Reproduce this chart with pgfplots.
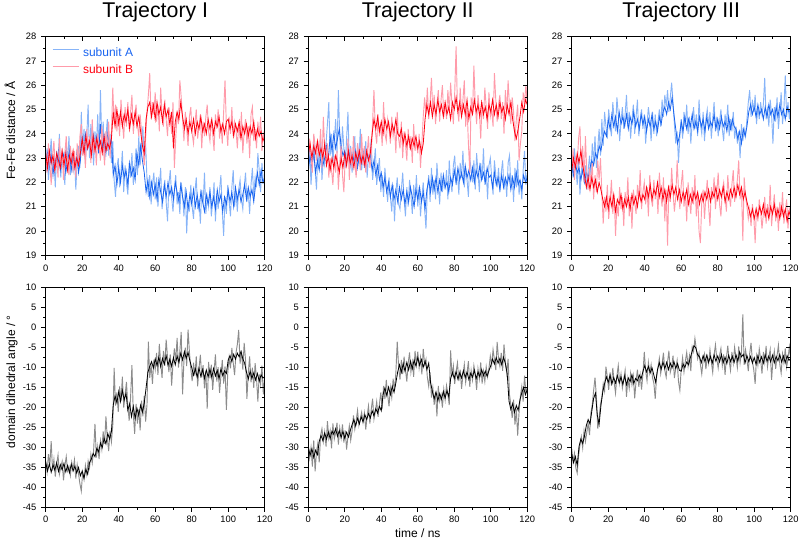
\documentclass[border=0pt]{standalone}
\usepackage{pgfplots}
\pgfplotsset{compat=1.18}
\usepackage{fontspec}
\setmainfont{Liberation Sans}
\definecolor{blueD}{RGB}{25,100,240}
\definecolor{blueL}{RGB}{135,180,248}
\definecolor{redD}{RGB}{255,0,15}
\definecolor{redL}{RGB}{255,155,170}
\definecolor{grayL}{RGB}{140,140,140}
\pgfplotsset{
  panel/.style={scale only axis, width=164.25pt, xmin=0, xmax=120,
    xtick={0,20,40,60,80,100,120}, minor x tick num=1, minor y tick num=1,
    axis line style={line width=0.6pt},
    major tick length=3.5pt, minor tick length=2pt,
    every tick/.append style={line width=0.5pt, black},
    ticklabel style={font=\fontsize{7}{8}\selectfont},
    /pgf/number format/assume math mode=true,
    anchor=south west},
  main/.style={panel, tick align=outside, xtick pos=left, ytick pos=left},
  over/.style={panel, tick align=inside, xtick pos=right, ytick pos=right, xticklabels={}, yticklabels={}},
  toprow/.style={height=164pt, ymin=19, ymax=28, ytick={19,20,...,28}},
  botrow/.style={height=164.8pt, ymin=-45, ymax=10, ytick={-45,-40,...,10}},
  botlbl/.style={yticklabels={-45,-40,-35,-30,-25,-20,-15,-10,-5,0,5,10}},
  ttl/.style={extra description/.code={\node[anchor=base, inner sep=0pt, font=\fontsize{16}{19}\selectfont] at (axis description cs:0.5,1.0884) {#1};}},
  ylab/.style={ylabel={#1}, ylabel style={at={(axis description cs:-0.14,0.57)}, anchor=base, font=\fontsize{9}{11}\selectfont}},
  Lt/.style={line width=0.7pt, no marks},
  Dk/.style={line width=0.6pt, no marks, forget plot},
}
\begin{document}
\begin{tikzpicture}
\useasboundingbox (0,0) rectangle (600pt,407.25pt);
% ===================== Trajectory I, top
\begin{axis}[main, toprow, at={(34.28pt,215.8pt)}, ttl={Trajectory I}, ylab={Fe-Fe distance / Å},
  legend cell align=left,
  legend image code/.code={\draw[#1, line width=0.8pt] (0pt,3pt) -- (20pt,3pt);},
  legend style={draw=none, fill=none, inner sep=0pt, at={(axis description cs:0,1)}, anchor=north west,
    xshift=4.5pt, yshift=-8.5pt, font=\fontsize{9}{10}\selectfont, row sep=4.6pt, column sep=2.5pt, nodes={inner sep=0pt}}]
\addplot[Lt, blueL] table[row sep=\\, header=false, y index=0, x expr=\coordindex*0.75] {
22.6\\ 23.4\\ 22.1\\ 23.0\\ 23.8\\ 22.4\\ 22.9\\ 21.8\\ 23.3\\ 22.7\\ 24.0\\ 22.2\\ 23.1\\ 22.5\\ 21.9\\ 23.6\\ 22.8\\ 23.9\\ 22.3\\ 23.2\\
22.4\\ 23.1\\ 21.7\\ 22.9\\ 23.5\\ 22.6\\ 24.9\\ 23.3\\ 24.2\\ 22.8\\ 23.9\\ 25.2\\ 23.0\\ 24.4\\ 23.6\\ 22.7\\ 24.1\\ 23.4\\ 24.8\\ 23.2\\
25.8\\ 23.6\\ 24.5\\ 22.9\\ 23.8\\ 24.6\\ 23.1\\ 24.0\\ 22.8\\ 23.7\\ 22.1\\ 21.4\\ 22.6\\ 23.0\\ 21.8\\ 22.4\\ 23.3\\ 21.6\\ 22.7\\ 22.0\\
21.5\\ 22.8\\ 22.2\\ 23.2\\ 21.9\\ 22.6\\ 23.4\\ 22.3\\ 23.9\\ 22.7\\ 23.5\\ 24.3\\ 22.9\\ 23.6\\ 22.1\\ 21.4\\ 22.3\\ 21.1\\ 21.9\\ 22.4\\
21.3\\ 22.2\\ 21.0\\ 21.8\\ 22.6\\ 20.9\\ 21.5\\ 22.1\\ 21.2\\ 20.4\\ 21.9\\ 22.5\\ 21.4\\ 20.8\\ 21.7\\ 22.3\\ 21.1\\ 21.6\\ 20.7\\ 22.0\\
21.5\\ 20.6\\ 21.8\\ 19.9\\ 21.2\\ 20.8\\ 21.9\\ 21.0\\ 20.5\\ 21.6\\ 22.2\\ 20.9\\ 21.3\\ 20.3\\ 21.7\\ 21.1\\ 22.4\\ 20.7\\ 21.4\\ 21.0\\
21.8\\ 20.6\\ 21.2\\ 22.0\\ 20.4\\ 21.5\\ 20.9\\ 21.7\\ 22.3\\ 20.8\\ 19.8\\ 21.4\\ 20.7\\ 21.9\\ 21.2\\ 20.6\\ 21.8\\ 22.5\\ 21.0\\ 21.6\\
20.8\\ 21.7\\ 22.1\\ 21.3\\ 20.9\\ 21.8\\ 22.4\\ 21.2\\ 21.6\\ 20.7\\ 21.9\\ 22.6\\ 21.4\\ 22.2\\ 21.8\\ 23.2\\ 22.5\\ 21.6\\ 22.8\\ 22.0\\
21.9\\
};
\addlegendentry{\textcolor{blueD}{subunit A}}
\addplot[Dk, blueD] table[row sep=\\, header=false, y index=0, x expr=\coordindex] {
22.4\\ 23.2\\ 22.6\\ 23.1\\ 22.3\\ 23.0\\ 22.7\\ 23.3\\ 22.5\\ 22.9\\
23.2\\ 22.4\\ 22.9\\ 23.3\\ 22.5\\ 23.0\\ 22.6\\ 23.2\\ 22.4\\ 22.9\\
23.9\\ 23.2\\ 24.1\\ 23.4\\ 23.8\\ 23.1\\ 24.0\\ 23.5\\ 23.9\\ 23.2\\
24.4\\ 23.4\\ 23.9\\ 23.2\\ 24.0\\ 23.5\\ 23.8\\ 22.3\\ 22.7\\ 21.9\\
22.6\\ 22.0\\ 22.7\\ 22.2\\ 22.5\\ 21.9\\ 22.8\\ 22.3\\ 22.6\\ 22.1\\
23.2\\ 22.7\\ 23.5\\ 22.9\\ 22.4\\ 21.6\\ 22.1\\ 21.4\\ 22.0\\ 21.5\\
21.9\\ 21.3\\ 22.1\\ 21.6\\ 21.2\\ 21.9\\ 21.4\\ 22.0\\ 21.5\\ 21.8\\
21.3\\ 22.0\\ 21.6\\ 21.2\\ 21.9\\ 21.4\\ 21.0\\ 21.6\\ 20.9\\ 21.5\\
21.1\\ 21.7\\ 21.0\\ 21.5\\ 20.9\\ 21.6\\ 21.2\\ 20.8\\ 21.5\\ 21.1\\
21.6\\ 21.0\\ 21.4\\ 20.9\\ 21.7\\ 21.2\\ 21.5\\ 20.8\\ 21.4\\ 21.1\\
21.7\\ 21.2\\ 21.6\\ 21.0\\ 21.8\\ 21.3\\ 21.7\\ 21.2\\ 21.5\\ 21.9\\
21.3\\ 21.8\\ 21.4\\ 21.7\\ 21.2\\ 21.9\\ 22.4\\ 21.9\\ 22.5\\ 22.0\\
22.2\\
};
\addplot[Lt, redL] table[row sep=\\, header=false, y index=0, x expr=\coordindex*0.75] {
23.3\\ 22.4\\ 23.6\\ 22.8\\ 21.9\\ 23.1\\ 23.7\\ 22.5\\ 23.0\\ 22.2\\ 23.8\\ 22.6\\ 23.4\\ 22.1\\ 23.2\\ 23.9\\ 22.7\\ 22.3\\ 23.5\\ 22.9\\
22.5\\ 23.3\\ 22.2\\ 23.6\\ 22.8\\ 23.9\\ 24.4\\ 23.1\\ 23.7\\ 22.6\\ 24.2\\ 23.4\\ 23.9\\ 22.8\\ 24.6\\ 23.2\\ 23.8\\ 22.7\\ 24.0\\ 23.5\\
22.9\\ 24.3\\ 23.6\\ 22.7\\ 24.1\\ 23.3\\ 24.5\\ 23.0\\ 24.0\\ 25.9\\ 24.4\\ 25.2\\ 24.1\\ 24.8\\ 23.9\\ 25.4\\ 24.5\\ 23.8\\ 25.1\\ 24.3\\
25.3\\ 24.2\\ 24.9\\ 25.6\\ 24.0\\ 24.7\\ 25.2\\ 24.4\\ 23.9\\ 24.8\\ 24.1\\ 23.4\\ 22.7\\ 23.8\\ 24.9\\ 25.6\\ 26.5\\ 24.6\\ 25.3\\ 24.8\\
25.7\\ 24.5\\ 25.2\\ 24.1\\ 25.9\\ 24.8\\ 24.3\\ 25.4\\ 24.6\\ 23.9\\ 25.1\\ 24.7\\ 24.0\\ 25.3\\ 22.6\\ 23.8\\ 24.9\\ 24.4\\ 26.2\\ 25.5\\
24.6\\ 23.7\\ 24.9\\ 24.2\\ 23.5\\ 24.7\\ 25.1\\ 24.0\\ 23.6\\ 24.4\\ 25.0\\ 23.8\\ 24.3\\ 24.8\\ 23.4\\ 24.5\\ 23.9\\ 24.7\\ 25.2\\ 24.1\\
23.7\\ 24.6\\ 24.0\\ 23.3\\ 24.8\\ 24.2\\ 25.0\\ 23.8\\ 24.4\\ 23.6\\ 24.9\\ 26.2\\ 24.3\\ 23.5\\ 24.7\\ 24.0\\ 25.1\\ 23.9\\ 24.5\\ 24.2\\
23.4\\ 24.4\\ 23.8\\ 24.9\\ 23.2\\ 24.1\\ 24.6\\ 23.6\\ 24.3\\ 23.0\\ 24.8\\ 25.1\\ 23.7\\ 24.2\\ 23.4\\ 24.5\\ 23.9\\ 24.7\\ 23.3\\ 24.0\\
23.8\\
};
\addlegendentry{\textcolor{redD}{subunit B}}
\addplot[Dk, redD] table[row sep=\\, header=false, y index=0, x expr=\coordindex] {
23.2\\ 22.6\\ 23.3\\ 22.8\\ 23.1\\ 22.5\\ 23.2\\ 22.9\\ 22.6\\ 23.3\\
22.7\\ 23.2\\ 22.5\\ 23.1\\ 22.8\\ 23.3\\ 22.6\\ 23.0\\ 22.7\\ 23.2\\
23.8\\ 23.2\\ 23.9\\ 23.4\\ 23.7\\ 23.1\\ 23.9\\ 23.3\\ 23.8\\ 23.4\\
23.7\\ 23.2\\ 23.9\\ 23.3\\ 23.6\\ 23.4\\ 23.8\\ 24.9\\ 24.3\\ 25.0\\
24.4\\ 24.9\\ 24.3\\ 24.8\\ 24.5\\ 25.0\\ 24.2\\ 24.8\\ 24.4\\ 24.9\\
24.3\\ 24.7\\ 24.1\\ 23.5\\ 23.2\\ 24.6\\ 25.1\\ 25.3\\ 24.7\\ 25.2\\
24.6\\ 25.3\\ 24.8\\ 25.1\\ 24.5\\ 25.2\\ 24.7\\ 25.0\\ 24.4\\ 24.9\\
23.4\\ 24.5\\ 24.9\\ 24.6\\ 25.3\\ 24.7\\ 24.2\\ 24.6\\ 24.0\\ 24.5\\
24.1\\ 24.6\\ 24.0\\ 24.5\\ 24.2\\ 24.7\\ 24.1\\ 24.4\\ 24.0\\ 24.6\\
24.2\\ 24.6\\ 24.0\\ 24.5\\ 24.3\\ 24.7\\ 24.1\\ 24.4\\ 24.0\\ 24.5\\
24.6\\ 24.2\\ 24.5\\ 23.9\\ 24.4\\ 24.1\\ 24.5\\ 23.8\\ 24.3\\ 24.0\\
24.4\\ 23.9\\ 24.3\\ 24.0\\ 24.5\\ 23.8\\ 24.2\\ 23.9\\ 24.1\\ 23.7\\
23.9\\
};
\end{axis}
\begin{axis}[over, toprow, at={(34.28pt,215.8pt)}]\end{axis}
% ===================== Trajectory II, top
\begin{axis}[main, toprow, at={(231.2pt,215.8pt)}, ttl={Trajectory II}]
\addplot[Lt, blueL] table[row sep=\\, header=false, y index=0, x expr=\coordindex*0.75] {
22.3\\ 23.5\\ 21.9\\ 22.8\\ 23.9\\ 22.5\\ 21.7\\ 23.2\\ 22.6\\ 23.8\\ 22.1\\ 23.0\\ 22.7\\ 23.6\\ 24.4\\ 25.3\\ 23.1\\ 24.0\\ 22.8\\ 23.7\\
24.6\\ 23.2\\ 25.8\\ 23.9\\ 22.9\\ 24.3\\ 23.4\\ 22.6\\ 23.8\\ 24.9\\ 22.7\\ 23.5\\ 22.4\\ 23.1\\ 23.9\\ 22.3\\ 23.6\\ 22.8\\ 24.2\\ 22.5\\
23.3\\ 22.6\\ 23.7\\ 22.2\\ 23.1\\ 22.9\\ 23.8\\ 22.1\\ 22.7\\ 23.4\\ 21.9\\ 22.5\\ 23.0\\ 21.6\\ 22.3\\ 21.4\\ 22.6\\ 21.8\\ 21.2\\ 22.2\\
21.4\\ 20.8\\ 21.9\\ 20.4\\ 21.6\\ 22.2\\ 21.1\\ 20.9\\ 21.7\\ 22.4\\ 21.3\\ 20.6\\ 21.8\\ 21.0\\ 22.1\\ 21.5\\ 20.7\\ 21.9\\ 21.2\\ 22.3\\
21.0\\ 21.8\\ 20.6\\ 21.4\\ 22.0\\ 20.9\\ 20.1\\ 21.7\\ 22.3\\ 21.2\\ 22.6\\ 21.5\\ 22.1\\ 21.3\\ 22.8\\ 21.9\\ 21.1\\ 22.4\\ 21.6\\ 22.2\\
21.7\\ 22.5\\ 21.3\\ 22.9\\ 22.0\\ 21.6\\ 22.7\\ 23.1\\ 21.9\\ 22.4\\ 21.5\\ 22.8\\ 22.2\\ 23.3\\ 21.8\\ 22.6\\ 22.1\\ 21.4\\ 23.0\\ 22.5\\
22.0\\ 22.9\\ 21.7\\ 23.2\\ 22.4\\ 21.6\\ 22.8\\ 22.1\\ 23.4\\ 21.9\\ 22.5\\ 21.3\\ 22.7\\ 23.0\\ 22.2\\ 21.5\\ 22.9\\ 22.3\\ 21.8\\ 22.6\\
21.6\\ 22.4\\ 22.9\\ 21.7\\ 22.2\\ 21.4\\ 22.8\\ 23.1\\ 21.9\\ 22.3\\ 21.2\\ 22.6\\ 21.8\\ 22.9\\ 21.5\\ 22.1\\ 21.3\\ 22.5\\ 23.3\\ 21.9\\
22.4\\
};
\addplot[Dk, blueD] table[row sep=\\, header=false, y index=0, x expr=\coordindex] {
22.5\\ 23.1\\ 22.6\\ 23.2\\ 22.4\\ 22.9\\ 22.5\\ 23.1\\ 22.7\\ 23.0\\
23.5\\ 23.0\\ 23.9\\ 23.3\\ 24.0\\ 23.4\\ 23.8\\ 24.2\\ 23.5\\ 23.1\\
23.3\\ 22.8\\ 23.4\\ 22.7\\ 23.2\\ 22.9\\ 23.3\\ 22.6\\ 23.1\\ 22.8\\
23.3\\ 22.7\\ 23.2\\ 22.9\\ 23.1\\ 22.5\\ 22.9\\ 22.3\\ 22.7\\ 22.1\\
22.4\\ 21.8\\ 22.2\\ 21.6\\ 22.0\\ 21.4\\ 21.9\\ 21.3\\ 21.7\\ 21.2\\
21.8\\ 21.3\\ 21.7\\ 21.1\\ 21.6\\ 21.2\\ 21.8\\ 21.4\\ 21.0\\ 21.7\\
21.3\\ 21.8\\ 21.2\\ 21.6\\ 20.9\\ 21.7\\ 22.1\\ 21.6\\ 22.2\\ 21.7\\
22.2\\ 21.6\\ 22.1\\ 21.7\\ 22.3\\ 21.8\\ 22.0\\ 21.6\\ 22.2\\ 21.9\\
22.5\\ 22.0\\ 22.6\\ 22.1\\ 22.4\\ 22.0\\ 22.7\\ 22.2\\ 22.5\\ 22.1\\
22.6\\ 22.0\\ 22.5\\ 22.2\\ 22.7\\ 22.1\\ 22.4\\ 22.0\\ 22.6\\ 22.2\\
22.3\\ 21.8\\ 22.4\\ 21.9\\ 22.2\\ 21.7\\ 22.3\\ 21.8\\ 22.2\\ 21.9\\
22.3\\ 21.7\\ 22.2\\ 21.8\\ 22.4\\ 21.9\\ 22.1\\ 21.7\\ 22.3\\ 22.0\\
22.2\\
};
\addplot[Lt, redL] table[row sep=\\, header=false, y index=0, x expr=\coordindex*0.75] {
22.7\\ 23.8\\ 23.1\\ 22.4\\ 24.0\\ 23.5\\ 22.9\\ 23.7\\ 23.2\\ 24.2\\ 22.6\\ 24.7\\ 23.4\\ 22.9\\ 23.6\\ 22.2\\ 23.0\\ 22.5\\ 21.9\\ 23.1\\
22.4\\ 23.3\\ 21.7\\ 22.8\\ 23.5\\ 22.3\\ 21.6\\ 23.0\\ 22.7\\ 23.8\\ 22.1\\ 23.4\\ 22.6\\ 23.9\\ 22.9\\ 22.2\\ 23.6\\ 23.1\\ 22.5\\ 24.0\\
22.7\\ 23.5\\ 22.4\\ 23.2\\ 23.9\\ 22.6\\ 23.1\\ 24.5\\ 25.8\\ 24.1\\ 23.6\\ 24.8\\ 23.9\\ 24.4\\ 23.5\\ 25.3\\ 24.0\\ 23.7\\ 24.6\\ 24.2\\
23.6\\ 24.7\\ 23.9\\ 24.3\\ 23.2\\ 24.9\\ 23.8\\ 23.4\\ 24.5\\ 23.0\\ 24.1\\ 23.6\\ 22.9\\ 24.2\\ 23.5\\ 23.9\\ 22.8\\ 24.4\\ 23.3\\ 23.7\\
23.2\\ 24.0\\ 22.6\\ 23.6\\ 24.7\\ 25.5\\ 24.8\\ 25.9\\ 24.6\\ 25.3\\ 26.3\\ 24.9\\ 25.6\\ 24.4\\ 25.2\\ 25.8\\ 24.5\\ 25.4\\ 26.0\\ 24.7\\
25.3\\ 24.6\\ 25.8\\ 24.9\\ 26.1\\ 25.2\\ 24.4\\ 25.7\\ 27.6\\ 25.0\\ 24.5\\ 25.9\\ 24.8\\ 25.4\\ 26.2\\ 24.3\\ 25.1\\ 23.6\\ 22.4\\ 25.5\\
24.8\\ 26.8\\ 25.2\\ 24.4\\ 25.6\\ 24.9\\ 23.8\\ 25.3\\ 24.6\\ 25.9\\ 25.1\\ 24.2\\ 25.7\\ 24.7\\ 25.0\\ 24.3\\ 26.5\\ 25.4\\ 24.5\\ 25.2\\
25.6\\ 24.6\\ 25.3\\ 24.0\\ 25.8\\ 24.8\\ 26.2\\ 25.1\\ 24.4\\ 25.5\\ 24.9\\ 23.7\\ 24.6\\ 25.2\\ 22.9\\ 23.6\\ 24.1\\ 25.7\\ 25.3\\ 26.0\\
25.2\\
};
\addplot[Dk, redD] table[row sep=\\, header=false, y index=0, x expr=\coordindex] {
23.1\\ 23.6\\ 23.0\\ 23.5\\ 23.2\\ 23.7\\ 23.1\\ 23.4\\ 23.0\\ 23.6\\
22.7\\ 23.1\\ 22.5\\ 23.0\\ 22.6\\ 23.1\\ 22.8\\ 22.4\\ 23.0\\ 22.6\\
23.2\\ 22.7\\ 23.3\\ 22.8\\ 23.1\\ 22.6\\ 23.2\\ 22.9\\ 23.3\\ 22.8\\
23.1\\ 22.7\\ 23.3\\ 22.9\\ 23.2\\ 24.0\\ 24.6\\ 24.2\\ 24.7\\ 24.1\\
24.5\\ 24.0\\ 24.6\\ 24.2\\ 24.5\\ 23.9\\ 24.4\\ 24.1\\ 24.6\\ 24.0\\
23.9\\ 24.2\\ 23.6\\ 24.0\\ 23.5\\ 23.9\\ 23.4\\ 23.8\\ 23.5\\ 23.9\\
23.4\\ 23.7\\ 23.2\\ 23.6\\ 24.6\\ 25.2\\ 24.8\\ 25.3\\ 24.7\\ 25.2\\
24.8\\ 25.4\\ 24.9\\ 25.2\\ 24.7\\ 25.3\\ 24.8\\ 25.1\\ 24.6\\ 25.3\\
25.0\\ 25.5\\ 24.9\\ 25.3\\ 24.7\\ 25.2\\ 24.8\\ 25.4\\ 24.6\\ 25.1\\
24.8\\ 25.4\\ 24.9\\ 25.2\\ 24.7\\ 25.3\\ 24.8\\ 25.1\\ 24.6\\ 25.2\\
24.9\\ 25.4\\ 24.8\\ 25.2\\ 24.7\\ 25.3\\ 24.9\\ 25.1\\ 24.6\\ 25.2\\
24.8\\ 25.3\\ 24.6\\ 24.1\\ 23.8\\ 24.2\\ 24.7\\ 25.3\\ 24.9\\ 25.4\\
25.2\\
};
\end{axis}
\begin{axis}[over, toprow, at={(231.2pt,215.8pt)}]\end{axis}
% ===================== Trajectory III, top
\begin{axis}[main, toprow, at={(428.8pt,215.8pt)}, ttl={Trajectory III}]
\addplot[Lt, blueL] table[row sep=\\, header=false, y index=0, x expr=\coordindex*0.75] {
22.9\\ 22.2\\ 23.4\\ 22.6\\ 21.9\\ 23.0\\ 21.5\\ 22.4\\ 23.2\\ 22.0\\ 22.7\\ 21.7\\ 22.5\\ 23.1\\ 22.3\\ 23.6\\ 22.8\\ 23.9\\ 22.6\\ 23.4\\
24.2\\ 23.1\\ 24.6\\ 23.5\\ 24.9\\ 24.3\\ 23.8\\ 25.0\\ 24.4\\ 23.9\\ 25.3\\ 24.6\\ 24.1\\ 25.5\\ 24.8\\ 23.7\\ 24.5\\ 25.1\\ 24.2\\ 24.8\\
25.6\\ 24.3\\ 24.9\\ 23.8\\ 24.6\\ 25.2\\ 24.0\\ 24.7\\ 25.4\\ 23.9\\ 24.5\\ 25.0\\ 24.2\\ 24.8\\ 23.6\\ 24.4\\ 25.1\\ 24.6\\ 23.7\\ 24.9\\
24.0\\ 24.8\\ 23.9\\ 24.5\\ 25.0\\ 24.3\\ 25.4\\ 24.7\\ 25.6\\ 25.1\\ 25.8\\ 24.9\\ 25.5\\ 26.1\\ 25.3\\ 24.4\\ 23.6\\ 24.1\\ 22.8\\ 23.9\\
24.6\\ 23.8\\ 24.9\\ 24.3\\ 25.2\\ 24.0\\ 24.7\\ 23.6\\ 24.5\\ 25.1\\ 24.2\\ 24.8\\ 23.9\\ 25.4\\ 24.4\\ 24.0\\ 24.9\\ 23.7\\ 24.6\\ 25.0\\
24.3\\ 24.9\\ 23.8\\ 24.6\\ 25.3\\ 24.1\\ 24.7\\ 23.9\\ 24.5\\ 25.0\\ 24.2\\ 23.7\\ 24.8\\ 24.4\\ 25.2\\ 23.9\\ 24.6\\ 24.1\\ 24.9\\ 23.8\\
24.3\\ 23.6\\ 24.1\\ 23.0\\ 24.4\\ 23.7\\ 24.2\\ 23.9\\ 24.6\\ 25.3\\ 25.8\\ 24.7\\ 25.4\\ 24.9\\ 25.6\\ 24.4\\ 25.1\\ 24.6\\ 25.3\\ 24.8\\
25.2\\ 26.3\\ 24.6\\ 25.0\\ 24.3\\ 25.4\\ 24.8\\ 23.6\\ 25.1\\ 24.5\\ 25.5\\ 24.2\\ 24.9\\ 25.7\\ 24.4\\ 25.0\\ 26.4\\ 24.7\\ 25.3\\ 24.6\\
25.1\\
};
\addplot[Dk, blueD] table[row sep=\\, header=false, y index=0, x expr=\coordindex] {
22.7\\ 22.3\\ 22.8\\ 22.4\\ 22.6\\ 22.1\\ 22.5\\ 22.0\\ 22.4\\ 22.2\\
22.6\\ 22.9\\ 22.7\\ 23.2\\ 23.0\\ 23.5\\ 23.3\\ 23.8\\ 24.1\\ 23.9\\
24.6\\ 24.2\\ 24.8\\ 24.3\\ 24.7\\ 24.1\\ 24.9\\ 24.4\\ 24.7\\ 24.3\\
24.8\\ 24.2\\ 24.7\\ 24.4\\ 24.9\\ 24.3\\ 24.6\\ 24.2\\ 24.8\\ 24.4\\
24.7\\ 24.1\\ 24.6\\ 24.3\\ 24.8\\ 24.2\\ 24.5\\ 24.1\\ 24.7\\ 24.4\\
24.9\\ 25.1\\ 24.8\\ 25.3\\ 25.0\\ 25.5\\ 24.8\\ 24.2\\ 23.6\\ 23.9\\
24.5\\ 24.1\\ 24.7\\ 24.2\\ 24.6\\ 24.3\\ 24.8\\ 24.2\\ 24.5\\ 24.1\\
24.7\\ 24.3\\ 24.6\\ 24.1\\ 24.7\\ 24.2\\ 24.5\\ 24.3\\ 24.8\\ 24.2\\
24.6\\ 24.2\\ 24.7\\ 24.3\\ 24.5\\ 24.1\\ 24.7\\ 24.2\\ 24.6\\ 24.3\\
24.2\\ 23.8\\ 24.1\\ 23.6\\ 24.2\\ 23.9\\ 24.3\\ 24.9\\ 25.2\\ 24.8\\
25.1\\ 24.7\\ 25.2\\ 24.8\\ 25.0\\ 24.6\\ 25.1\\ 24.7\\ 25.2\\ 24.8\\
25.0\\ 24.6\\ 25.1\\ 24.7\\ 25.2\\ 24.8\\ 25.0\\ 24.6\\ 25.1\\ 24.9\\
25.0\\
};
\addplot[Lt, redL] table[row sep=\\, header=false, y index=0, x expr=\coordindex*0.75] {
22.5\\ 23.4\\ 22.1\\ 23.0\\ 22.7\\ 23.8\\ 24.3\\ 22.6\\ 23.5\\ 22.0\\ 23.9\\ 22.4\\ 21.7\\ 22.6\\ 21.9\\ 22.8\\ 21.3\\ 22.3\\ 21.6\\ 22.9\\
22.1\\ 23.0\\ 21.6\\ 20.3\\ 21.4\\ 20.8\\ 21.9\\ 20.5\\ 21.2\\ 22.1\\ 20.7\\ 21.5\\ 19.8\\ 21.1\\ 20.6\\ 21.8\\ 20.9\\ 21.4\\ 20.2\\ 21.6\\
21.0\\ 22.2\\ 20.6\\ 21.4\\ 20.1\\ 21.7\\ 21.2\\ 20.7\\ 21.9\\ 21.3\\ 22.5\\ 20.9\\ 21.6\\ 22.0\\ 21.1\\ 21.8\\ 20.6\\ 22.3\\ 21.4\\ 21.0\\
22.1\\ 21.3\\ 21.8\\ 20.7\\ 22.4\\ 21.5\\ 21.0\\ 22.2\\ 20.4\\ 21.7\\ 19.4\\ 21.9\\ 21.2\\ 22.6\\ 21.6\\ 20.8\\ 21.4\\ 22.9\\ 21.7\\ 20.9\\
21.9\\ 22.5\\ 21.0\\ 21.6\\ 20.4\\ 22.0\\ 21.3\\ 20.7\\ 21.8\\ 21.1\\ 22.3\\ 20.6\\ 21.5\\ 20.0\\ 19.5\\ 21.2\\ 21.7\\ 20.5\\ 21.4\\ 22.1\\
21.0\\ 20.2\\ 21.8\\ 21.3\\ 22.2\\ 20.9\\ 21.6\\ 22.4\\ 21.1\\ 20.6\\ 21.7\\ 22.0\\ 21.4\\ 20.8\\ 22.3\\ 21.5\\ 21.0\\ 21.9\\ 22.5\\ 21.2\\
21.7\\ 22.1\\ 22.9\\ 21.3\\ 21.8\\ 19.6\\ 22.2\\ 21.4\\ 21.0\\ 20.5\\ 20.9\\ 20.2\\ 21.1\\ 20.6\\ 19.5\\ 21.0\\ 20.4\\ 21.3\\ 20.8\\ 20.1\\
20.7\\ 21.4\\ 20.3\\ 21.1\\ 20.6\\ 21.9\\ 20.2\\ 20.9\\ 21.5\\ 20.4\\ 21.0\\ 20.0\\ 21.2\\ 20.6\\ 21.6\\ 20.3\\ 20.8\\ 21.3\\ 20.1\\ 20.9\\
20.7\\
};
\addplot[Dk, redD] table[row sep=\\, header=false, y index=0, x expr=\coordindex] {
22.5\\ 23.0\\ 22.6\\ 23.2\\ 22.8\\ 23.3\\ 22.7\\ 22.3\\ 21.8\\ 22.2\\
21.7\\ 22.2\\ 21.8\\ 22.1\\ 21.6\\ 22.0\\ 21.7\\ 21.3\\ 21.0\\ 21.4\\
20.9\\ 21.4\\ 21.0\\ 21.5\\ 20.8\\ 21.3\\ 21.1\\ 21.5\\ 20.9\\ 21.3\\
21.0\\ 21.4\\ 20.9\\ 21.5\\ 21.1\\ 21.4\\ 21.0\\ 21.6\\ 21.2\\ 21.5\\
21.3\\ 21.8\\ 21.4\\ 21.9\\ 21.3\\ 21.7\\ 21.5\\ 22.0\\ 21.4\\ 21.8\\
21.3\\ 21.7\\ 21.2\\ 21.8\\ 21.4\\ 21.9\\ 21.5\\ 21.8\\ 21.3\\ 21.7\\
21.2\\ 21.6\\ 21.3\\ 21.7\\ 21.1\\ 21.5\\ 21.2\\ 21.6\\ 21.3\\ 21.6\\
21.1\\ 21.5\\ 21.2\\ 21.6\\ 21.3\\ 21.7\\ 21.2\\ 21.6\\ 21.4\\ 21.8\\
21.3\\ 21.7\\ 21.4\\ 21.8\\ 21.2\\ 21.6\\ 21.3\\ 21.7\\ 21.4\\ 21.8\\
21.4\\ 21.9\\ 21.5\\ 21.8\\ 21.3\\ 21.6\\ 21.2\\ 20.9\\ 20.6\\ 20.9\\
20.5\\ 20.9\\ 20.6\\ 21.0\\ 20.7\\ 21.1\\ 20.6\\ 20.9\\ 20.5\\ 21.0\\
20.7\\ 21.1\\ 20.6\\ 20.9\\ 20.5\\ 21.0\\ 20.6\\ 20.9\\ 20.4\\ 20.8\\
20.6\\
};
\end{axis}
\begin{axis}[over, toprow, at={(428.8pt,215.8pt)}]\end{axis}
% ===================== Trajectory I, bottom
\begin{axis}[main, botrow, botlbl, at={(34.28pt,27pt)}, ylab={domain dihedral angle / °}]
\addplot[Lt, grayL] table[row sep=\\, header=false, y index=0, x expr=\coordindex*0.75] {
-33.5\\ -36.2\\ -31.8\\ -34.6\\ -28.5\\ -35.9\\ -33.1\\ -37.4\\ -34.2\\ -32.0\\ -36.8\\ -35.1\\ -33.6\\ -38.3\\ -34.7\\ -32.4\\ -36.0\\ -34.9\\ -37.1\\ -33.8\\
-35.6\\ -33.2\\ -37.9\\ -34.4\\ -36.7\\ -39.2\\ -41.0\\ -36.3\\ -38.1\\ -34.6\\ -36.9\\ -33.5\\ -35.2\\ -31.8\\ -34.0\\ -30.9\\ -24.2\\ -32.6\\ -29.8\\ -33.0\\
-28.4\\ -30.6\\ -26.1\\ -29.2\\ -22.3\\ -27.8\\ -31.0\\ -25.9\\ -28.7\\ -24.5\\ -10.2\\ -19.6\\ -16.3\\ -21.2\\ -14.8\\ -18.5\\ -12.4\\ -20.1\\ -16.9\\ -13.7\\
-19.8\\ -23.4\\ -17.6\\ -9.5\\ -21.8\\ -26.7\\ -19.2\\ -24.1\\ -20.6\\ -25.8\\ -18.4\\ -22.3\\ -17.1\\ -23.6\\ -19.4\\ -3.6\\ -12.7\\ -9.3\\ -14.2\\ -8.1\\
-10.6\\ -6.4\\ -11.9\\ -4.2\\ -8.8\\ -12.7\\ -5.9\\ -9.6\\ -3.1\\ -7.5\\ -11.2\\ -6.8\\ -14.6\\ -9.1\\ -5.3\\ -8.4\\ -2.7\\ -10.1\\ -6.0\\ -1.2\\
-16.8\\ -8.3\\ -5.1\\ -9.7\\ -0.6\\ -6.2\\ -10.4\\ -13.5\\ -8.9\\ -12.1\\ -7.3\\ -14.8\\ -10.2\\ -6.9\\ -12.6\\ -9.5\\ -15.3\\ -11.0\\ -20.4\\ -8.7\\
-12.8\\ -9.4\\ -15.7\\ -11.1\\ -6.8\\ -13.6\\ -10.0\\ -16.4\\ -12.3\\ -8.2\\ -14.1\\ -9.8\\ -20.7\\ -11.5\\ -7.6\\ -10.3\\ -5.2\\ -8.9\\ -12.0\\ -6.5\\
-4.3\\ -0.7\\ -9.1\\ -5.8\\ -10.6\\ -3.9\\ -8.2\\ -17.9\\ -11.4\\ -7.3\\ -13.8\\ -10.1\\ -15.2\\ -9.0\\ -12.7\\ -18.6\\ -11.8\\ -14.3\\ -9.6\\ -16.8\\
-12.5\\
};
\addplot[Dk, black] table[row sep=\\, header=false, y index=0, x expr=\coordindex] {
-33.8\\ -36.0\\ -34.2\\ -36.3\\ -34.5\\ -35.8\\ -33.9\\ -36.1\\ -34.4\\ -35.7\\
-34.1\\ -36.2\\ -34.6\\ -36.4\\ -34.3\\ -36.0\\ -34.8\\ -36.5\\ -35.1\\ -37.2\\
-36.0\\ -37.8\\ -35.6\\ -36.8\\ -33.9\\ -33.0\\ -31.6\\ -32.4\\ -30.3\\ -31.2\\
-29.0\\ -30.1\\ -27.8\\ -29.2\\ -26.6\\ -28.0\\ -26.1\\ -19.5\\ -17.2\\ -18.9\\
-16.1\\ -18.6\\ -15.8\\ -18.2\\ -16.5\\ -20.8\\ -19.1\\ -22.4\\ -19.8\\ -22.9\\
-20.3\\ -22.1\\ -19.5\\ -21.2\\ -19.0\\ -15.2\\ -11.3\\ -9.8\\ -8.6\\ -10.2\\
-7.9\\ -9.6\\ -7.4\\ -9.9\\ -7.8\\ -9.3\\ -7.1\\ -9.5\\ -8.0\\ -9.8\\
-7.6\\ -9.4\\ -7.2\\ -8.8\\ -6.5\\ -8.2\\ -6.1\\ -7.8\\ -6.3\\ -8.4\\
-10.1\\ -12.0\\ -10.4\\ -12.5\\ -10.2\\ -12.3\\ -10.6\\ -12.8\\ -10.7\\ -12.4\\
-10.5\\ -12.6\\ -10.3\\ -12.2\\ -10.8\\ -12.9\\ -10.4\\ -12.1\\ -10.9\\ -11.6\\
-8.2\\ -7.1\\ -8.6\\ -6.8\\ -8.0\\ -6.5\\ -7.4\\ -6.1\\ -7.9\\ -9.0\\
-11.2\\ -13.0\\ -11.0\\ -12.8\\ -11.4\\ -13.2\\ -11.6\\ -13.5\\ -11.9\\ -12.7\\
-12.4\\
};
\end{axis}
\begin{axis}[over, botrow, at={(34.28pt,27pt)}]\end{axis}
% ===================== Trajectory II, bottom
\begin{axis}[main, botrow, botlbl, at={(231.2pt,27pt)}, xlabel={time / ns},
  xlabel style={at={(axis description cs:0.5,-0.139)}, anchor=base, font=\fontsize{9}{11}\selectfont}]
\addplot[Lt, grayL] table[row sep=\\, header=false, y index=0, x expr=\coordindex*0.75] {
-29.4\\ -32.7\\ -30.1\\ -34.9\\ -28.3\\ -36.1\\ -31.2\\ -29.0\\ -33.8\\ -27.1\\ -25.4\\ -28.6\\ -26.2\\ -29.9\\ -23.5\\ -27.8\\ -25.9\\ -30.3\\ -24.1\\ -28.0\\
-26.5\\ -23.9\\ -29.4\\ -25.2\\ -27.7\\ -24.3\\ -28.9\\ -25.8\\ -30.6\\ -27.2\\ -24.7\\ -28.3\\ -26.0\\ -22.1\\ -25.5\\ -23.4\\ -20.8\\ -24.6\\ -22.9\\ -21.3\\
-23.8\\ -21.5\\ -25.6\\ -22.2\\ -19.7\\ -24.1\\ -20.6\\ -17.9\\ -23.0\\ -21.1\\ -18.6\\ -22.4\\ -19.2\\ -16.3\\ -20.5\\ -14.7\\ -18.0\\ -13.2\\ -16.9\\ -19.8\\
-15.1\\ -17.6\\ -12.9\\ -15.8\\ -11.4\\ -3.6\\ -9.8\\ -13.1\\ -8.2\\ -11.7\\ -7.4\\ -10.5\\ -13.6\\ -9.0\\ -6.3\\ -11.2\\ -8.7\\ -12.4\\ -5.9\\ -9.4\\
-6.1\\ -10.2\\ -7.6\\ -11.8\\ -5.4\\ -9.3\\ -8.0\\ -12.5\\ -14.8\\ -11.3\\ -17.6\\ -15.1\\ -19.4\\ -16.2\\ -22.3\\ -14.7\\ -18.5\\ -16.9\\ -20.1\\ -15.5\\
-18.2\\ -14.6\\ -16.8\\ -19.5\\ -5.8\\ -12.3\\ -9.7\\ -14.2\\ -11.1\\ -8.9\\ -13.5\\ -10.6\\ -15.4\\ -12.0\\ -9.3\\ -13.8\\ -11.4\\ -8.5\\ -14.9\\ -10.8\\
-13.2\\ -9.6\\ -11.8\\ -15.7\\ -10.4\\ -12.9\\ -8.8\\ -14.1\\ -11.0\\ -13.6\\ -9.9\\ -12.4\\ -10.3\\ -7.2\\ -9.5\\ -5.6\\ -8.1\\ -10.7\\ -3.7\\ -7.9\\
-9.8\\ -6.4\\ -10.9\\ -4.3\\ -8.6\\ -11.5\\ -7.9\\ -16.8\\ -19.5\\ -22.7\\ -18.1\\ -24.4\\ -20.6\\ -27.1\\ -21.3\\ -17.2\\ -14.8\\ -18.6\\ -12.1\\ -16.4\\
-15.2\\
};
\addplot[Dk, black] table[row sep=\\, header=false, y index=0, x expr=\coordindex] {
-30.0\\ -32.1\\ -30.4\\ -32.6\\ -30.8\\ -31.9\\ -28.6\\ -27.1\\ -28.4\\ -26.5\\
-28.0\\ -26.2\\ -27.9\\ -26.0\\ -26.8\\ -25.4\\ -27.3\\ -25.9\\ -27.6\\ -26.1\\
-27.8\\ -26.3\\ -27.5\\ -25.9\\ -24.4\\ -23.1\\ -24.7\\ -22.8\\ -24.2\\ -22.4\\
-23.7\\ -21.9\\ -23.1\\ -21.6\\ -22.7\\ -20.9\\ -22.2\\ -20.4\\ -21.5\\ -19.8\\
-20.9\\ -16.8\\ -15.2\\ -17.1\\ -15.0\\ -16.9\\ -14.8\\ -16.3\\ -13.9\\ -11.2\\
-9.4\\ -11.3\\ -9.1\\ -11.0\\ -8.8\\ -10.7\\ -8.5\\ -10.4\\ -8.2\\ -9.7\\
-7.6\\ -9.5\\ -8.1\\ -10.0\\ -8.5\\ -10.6\\ -9.0\\ -13.8\\ -16.1\\ -17.9\\
-16.2\\ -18.4\\ -16.6\\ -18.0\\ -16.1\\ -17.7\\ -15.9\\ -17.4\\ -12.9\\ -11.3\\
-12.8\\ -11.1\\ -13.0\\ -11.4\\ -12.7\\ -10.9\\ -12.6\\ -11.2\\ -13.1\\ -11.5\\
-12.5\\ -10.8\\ -12.9\\ -11.2\\ -12.4\\ -10.6\\ -12.1\\ -11.0\\ -12.3\\ -10.9\\
-9.6\\ -8.0\\ -9.2\\ -7.6\\ -9.0\\ -7.8\\ -9.4\\ -7.5\\ -9.1\\ -11.6\\
-18.5\\ -20.6\\ -19.1\\ -21.3\\ -19.6\\ -20.8\\ -18.2\\ -16.4\\ -15.1\\ -16.9\\
-15.6\\
};
\end{axis}
\begin{axis}[over, botrow, at={(231.2pt,27pt)}]\end{axis}
% ===================== Trajectory III, bottom
\begin{axis}[main, botrow, botlbl, at={(428.8pt,27pt)}]
\addplot[Lt, grayL] table[row sep=\\, header=false, y index=0, x expr=\coordindex*0.75] {
-30.4\\ -33.8\\ -31.6\\ -35.2\\ -36.5\\ -32.1\\ -29.5\\ -27.4\\ -30.2\\ -25.9\\ -28.6\\ -26.3\\ -24.1\\ -27.0\\ -21.5\\ -19.4\\ -15.8\\ -12.6\\ -17.3\\ -25.4\\
-22.8\\ -19.3\\ -17.6\\ -14.2\\ -16.0\\ -9.9\\ -12.4\\ -15.7\\ -11.3\\ -14.6\\ -10.2\\ -13.8\\ -16.5\\ -12.1\\ -9.6\\ -14.0\\ -11.7\\ -15.2\\ -13.0\\ -10.8\\
-17.4\\ -12.9\\ -15.3\\ -11.6\\ -14.4\\ -12.2\\ -17.8\\ -13.5\\ -10.6\\ -14.9\\ -12.0\\ -15.6\\ -11.8\\ -6.2\\ -10.9\\ -13.4\\ -8.8\\ -11.5\\ -9.4\\ -12.6\\
-14.0\\ -17.9\\ -12.3\\ -10.1\\ -7.8\\ -11.6\\ -9.2\\ -6.4\\ -10.8\\ -12.5\\ -8.6\\ -5.9\\ -11.3\\ -9.9\\ -7.1\\ -12.7\\ -10.2\\ -8.3\\ -13.6\\ -15.8\\
-10.4\\ -7.6\\ -11.2\\ -8.5\\ -6.3\\ -9.8\\ -7.2\\ -11.0\\ -4.9\\ -6.1\\ -2.8\\ -5.5\\ -7.9\\ -6.4\\ -9.3\\ -11.7\\ -8.2\\ -6.7\\ -10.5\\ -7.4\\
-9.1\\ -5.6\\ -8.7\\ -11.3\\ -6.9\\ -4.4\\ -8.0\\ -10.2\\ -7.1\\ -5.3\\ -9.6\\ -6.8\\ -11.9\\ -7.7\\ -4.6\\ -8.4\\ -10.8\\ -6.2\\ -9.0\\ -5.0\\
-7.6\\ -10.1\\ -4.8\\ -8.9\\ -6.3\\ 3.2\\ -9.4\\ -5.7\\ -8.1\\ -11.0\\ -6.6\\ -3.9\\ -8.6\\ -10.7\\ -14.2\\ -7.3\\ -9.5\\ -5.4\\ -8.0\\ -11.6\\
-6.2\\ -8.8\\ -4.7\\ -9.9\\ -7.4\\ -5.6\\ -13.2\\ -8.3\\ -6.0\\ -10.4\\ -7.1\\ -4.5\\ -9.2\\ -11.5\\ -6.7\\ -8.9\\ -5.3\\ -10.0\\ -7.8\\ -4.9\\
-8.2\\
};
\addplot[Dk, black] table[row sep=\\, header=false, y index=0, x expr=\coordindex] {
-31.8\\ -33.9\\ -32.4\\ -34.6\\ -29.8\\ -28.0\\ -29.1\\ -27.2\\ -24.6\\ -23.1\\
-24.2\\ -21.0\\ -17.8\\ -16.5\\ -22.0\\ -24.3\\ -19.6\\ -16.2\\ -14.1\\ -12.4\\
-13.8\\ -12.0\\ -14.2\\ -12.6\\ -14.0\\ -12.1\\ -13.9\\ -12.5\\ -14.3\\ -12.2\\
-14.4\\ -12.7\\ -13.6\\ -11.9\\ -14.1\\ -12.8\\ -13.4\\ -12.0\\ -12.9\\ -11.1\\
-9.6\\ -11.2\\ -9.8\\ -11.4\\ -10.2\\ -12.0\\ -13.8\\ -10.6\\ -8.9\\ -10.5\\
-8.7\\ -10.4\\ -8.8\\ -10.6\\ -9.0\\ -10.1\\ -8.6\\ -10.3\\ -9.1\\ -10.8\\
-11.0\\ -9.2\\ -10.1\\ -8.7\\ -9.4\\ -7.6\\ -6.0\\ -4.6\\ -5.2\\ -6.9\\
-7.4\\ -8.9\\ -7.1\\ -8.6\\ -7.0\\ -8.8\\ -7.3\\ -9.0\\ -6.9\\ -8.5\\
-7.2\\ -8.7\\ -6.8\\ -8.9\\ -7.5\\ -9.1\\ -7.0\\ -8.6\\ -7.3\\ -8.8\\
-6.9\\ -8.5\\ -6.2\\ -7.4\\ -6.8\\ -8.9\\ -7.1\\ -8.6\\ -7.3\\ -9.0\\
-7.6\\ -9.3\\ -7.1\\ -8.8\\ -7.4\\ -9.0\\ -6.9\\ -8.5\\ -7.2\\ -8.7\\
-7.0\\ -8.9\\ -7.3\\ -8.4\\ -6.8\\ -8.7\\ -7.2\\ -8.9\\ -7.1\\ -8.3\\
-7.8\\
};
\end{axis}
\begin{axis}[over, botrow, at={(428.8pt,27pt)}]\end{axis}
\end{tikzpicture}
\end{document}
